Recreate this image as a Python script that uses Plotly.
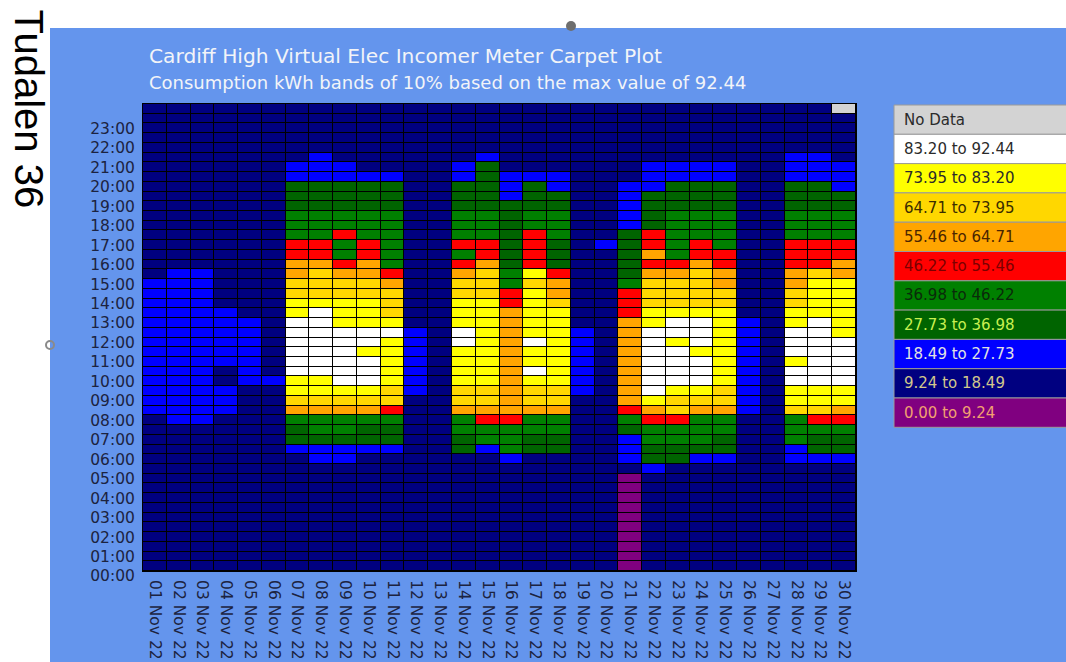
import plotly.graph_objects as go

# ---------------- data ----------------
days = [f"{d:02d} Nov 22" for d in range(1, 31)]
hour_labels = [f"{h:02d}:00" for h in range(24)]

# band codes (low -> high) + no data
band_codes = ["P", "N", "B", "D", "G", "R", "O", "A", "Y", "W", "X"]
band_labels = ["0.00 to 9.24", "9.24 to 18.49", "18.49 to 27.73", "27.73 to 36.98",
               "36.98 to 46.22", "46.22 to 55.46", "55.46 to 64.71", "64.71 to 73.95",
               "73.95 to 83.20", "83.20 to 92.44", "No Data"]
band_colors = ["#800080", "#000080", "#0000FF", "#006400", "#008000", "#FF0000",
               "#FFA500", "#FFD700", "#FFFF00", "#FFFFFF", "#D3D3D3"]
band_text_colors = ["#F2A070", "#D2C88C", "#E2E2E2", "#C8F050", "#0A2A0A", "#7A0000",
                    "#4A2400", "#3A2C00", "#2A2A2A", "#2A2A2A", "#2A2A2A"]

# one string per day, 48 half-hour bands from 00:00 (left) to 23:30 (right),
# grouped by 4 hours
day_bands = [
    "NNNNNNNN NNNNNNNN BBBBBBBB BBBBBBNN NNNNNNNN NNNNNNNN",  # 01
    "NNNNNNNN NNNNNNNB BBBBBBBB BBBBBBBN NNNNNNNN NNNNNNNN",  # 02
    "NNNNNNNN NNNNNNNB BBBBBBBB BBBBBBBN NNNNNNNN NNNNNNNN",  # 03
    "NNNNNNNN NNNNNNNN BBBNNBBB BBBNNNNN NNNNNNNN NNNNNNNN",  # 04
    "NNNNNNNN NNNNNNNN NNNBBBBB BBNNNNNN NNNNNNNN NNNNNNNN",  # 05
    "NNNNNNNN NNNNNNNN NNNBNNNN NNNNNNNN NNNNNNNN NNNNNNNN",  # 06
    "NNNNNNNN NNNNBDDG OAYYWWWW WWYYAAOO RRGGGDDD BBNNNNNN",  # 07
    "NNNNNNNN NNNBBDGG OAYYWWWW WWWYAAAO RRGGGDDD BBBNNNNN",  # 08
    "NNNNNNNN NNNBBDGG OAYWWWWW WYYYAAOR GGRGGDDD BBNNNNNN",  # 09
    "NNNNNNNN NNNNBDDG OAYWWWYW WYYYAAOO RRGGGDDD BNNNNNNN",  # 10
    "NNNNNNNN NNNNBDDG RAAYYYYY WYAAAORG GGGGGDDD BNNNNNNN",  # 11
    "NNNNNNNN NNNNNNNN NNBBBBBB BNNNNNNN NNNNNNNN NNNNNNNN",  # 12
    "NNNNNNNN NNNNNNNN NNNNNNNN NNNNNNNN NNNNNNNN NNNNNNNN",  # 13
    "NNNNNNNN NNNNDDGG OAAYYYYW WYYYAAOR GRGGGDDD BBNNNNNN",  # 14
    "NNNNNNNN NNNNBGGR OAAYYYYY YYYYAAAO RRGGGDDD DDBNNNNN",  # 15
    "NNNNNNNN NNNBGGGR OOOOOOOO OOORRGGD DDDDDDBB BNNNNNNN",  # 16
    "NNNNNNNN NNNNDDGG OAAYWYYW YYYYYAYR RRRGGDDD BNNNNNNN",  # 17
    "NNNNNNNN NNNNDDGG OAAYYYYY YYYAOORD DDGGGDDB BNNNNNNN",  # 18
    "NNNNNNNN NNNNNNNN NNBBBBBB BNNNNNNN NNNNNNNN NNNNNNNN",  # 19
    "NNNNNNNN NNNNNNNN NNNNNNNN NNNNNNNN NBNNNNNN NNNNNNNN",  # 20
    "PPPPPPPP PPNBBBDG ROOOOOOO OORRRGDD DDDBBBBB NNNNNNNN",  # 21
    "NNNNNNNN NNBDDGGR OYWWWWWW WYYAAAOR ORRDDDDB BBNNNNNN",  # 22
    "NNNNNNNN NNNDDGGR AAYWWWWY WWYAAAOR GGGGGDDD BBNNNNNN",  # 23
    "NNNNNNNN NNNBDGGG OAYWWWYW WWYAAAAO RRGGGDDD BBNNNNNN",  # 24
    "NNNNNNNN NNNBDDGG OAAYYYYY YYYAAOOR RGGGGDDD BBNNNNNN",  # 25
    "NNNNNNNN NNNNNNNN BBBBBBBB BBNNNNNN NNNNNNNN NNNNNNNN",  # 26
    "NNNNNNNN NNNNNNNN NNNNNNNN NNNNNNNN NNNNNNNN NNNNNNNN",  # 27
    "NNNNNNNN NNNBBGGG AYYWWYWW WYYAAOOR RRGGGDDD BBBNNNNN",  # 28
    "NNNNNNNN NNNBDDGR AYYWWWWW WWYYYYAR RRGGGDDD BBBNNNNN",  # 29
    "NNNNNNNN NNNBDDGR OYYWWWWW YYYYYYOO RRGGGDDB BBNNNNNX",  # 30
]

title_text = "Cardiff High Virtual Elec Incomer Meter Carpet Plot"
subtitle_text = "Consumption kWh bands of 10% based on the max value of 92.44"
side_text = "Tudalen 36"

# ---------------- build matrix ----------------
cols = [s.replace(" ", "") for s in day_bands]
n_rows = 48
z = [[band_codes.index(cols[c][r]) for c in range(len(cols))] for r in range(n_rows)]
x_vals = list(range(1, len(days) + 1))
y_vals = [r * 0.5 + 0.25 for r in range(n_rows)]
text = [[band_labels[z[r][c]] for c in range(len(cols))] for r in range(n_rows)]

n = len(band_colors)
colorscale = []
for i, col in enumerate(band_colors):
    colorscale.append([i / n, col])
    colorscale.append([(i + 1) / n, col])

W, H = 1066, 662
L, R, T, B = 143, 856, 104, 571


def px(x):
    return (x - L) / (R - L)


def py(y):
    return (B - y) / (B - T)


FONT = "DejaVu Sans"
TICK_COL = "#1C2340"
PANEL = "#6495ED"

fig = go.Figure(go.Heatmap(
    z=z, x=x_vals, y=y_vals, text=text,
    colorscale=colorscale, zmin=-0.5, zmax=n - 0.5,
    showscale=False, xgap=1, ygap=1,
    hovertemplate="%{text}<extra></extra>",
))

shapes = [
    dict(type="rect", xref="paper", yref="paper", layer="below",
         x0=px(50), x1=px(W + 5), y0=py(H + 5), y1=py(28),
         fillcolor=PANEL, line=dict(width=0)),
    # dark grid under the cells
    dict(type="rect", xref="paper", yref="paper", layer="below",
         x0=0, x1=1, y0=0, y1=1, fillcolor="#000000", line=dict(width=0)),
]

annotations = [
    dict(text=title_text, xref="paper", yref="paper", x=px(147), y=py(56),
         xanchor="left", yanchor="middle", showarrow=False,
         font=dict(family=FONT, size=20.2, color="#F2F4F8")),
    dict(text=subtitle_text, xref="paper", yref="paper", x=px(147), y=py(82),
         xanchor="left", yanchor="middle", showarrow=False,
         font=dict(family=FONT, size=18, color="#F2F4F8")),
    dict(text=side_text, xref="paper", yref="paper", x=px(29), y=py(7),
         xanchor="center", yanchor="top", showarrow=False, textangle=90,
         font=dict(family="Liberation Sans", size=40, color="#000000")),
]

# legend panel (top: No Data, bottom: lowest band)
row_h = 29.3
leg_top = 105
for k, i in enumerate(range(n - 1, -1, -1)):
    y0 = leg_top + k * row_h
    shapes.append(dict(type="rect", xref="paper", yref="paper",
                       x0=px(894), x1=px(W + 5), y0=py(y0 + row_h), y1=py(y0),
                       fillcolor=band_colors[i], line=dict(color="#9A9A9A", width=1)))
    annotations.append(dict(text=band_labels[i], xref="paper", yref="paper",
                            x=px(902), y=py(y0 + row_h / 2), xanchor="left",
                            yanchor="middle", showarrow=False,
                            font=dict(family=FONT, size=15, color=band_text_colors[i])))

# small grey handles from the screenshot
shapes.append(dict(type="circle", xref="paper", yref="paper",
                   x0=px(566), x1=px(576), y0=py(31), y1=py(21),
                   fillcolor="#6E6E6E", line=dict(width=0)))
shapes.append(dict(type="circle", xref="paper", yref="paper",
                   x0=px(46), x1=px(54), y0=py(349), y1=py(341),
                   fillcolor="rgba(0,0,0,0)", line=dict(color="#8A8A8A", width=2)))

fig.update_layout(
    width=W, height=H, autosize=False,
    margin=dict(l=L, r=W - R, t=T, b=H - B, pad=0),
    paper_bgcolor="white",
    plot_bgcolor="#000000",
    shapes=shapes,
    annotations=annotations,
    xaxis=dict(range=[0.5, len(days) + 0.5], tickvals=x_vals, ticktext=days,
               tickangle=90, tickfont=dict(family=FONT, size=15.5, color=TICK_COL),
               ticklabelstandoff=5, automargin=False,
               showgrid=False, zeroline=False, showline=True, linecolor="#000000",
               linewidth=1, mirror=True, ticks="", fixedrange=True),
    yaxis=dict(range=[0, 24], tickvals=list(range(24)), ticktext=hour_labels,
               tickfont=dict(family=FONT, size=15.5, color=TICK_COL),
               ticklabelshift=5, ticklabelstandoff=4, automargin=False,
               showgrid=False, zeroline=False, showline=True, linecolor="#000000",
               linewidth=1, mirror=True, ticks="", fixedrange=True),
)

fig.write_html("out.html",
               config={"responsive": False, "displayModeBar": False},
               post_script="document.body.style.margin='0';"
                           "document.body.style.overflow='hidden';")
